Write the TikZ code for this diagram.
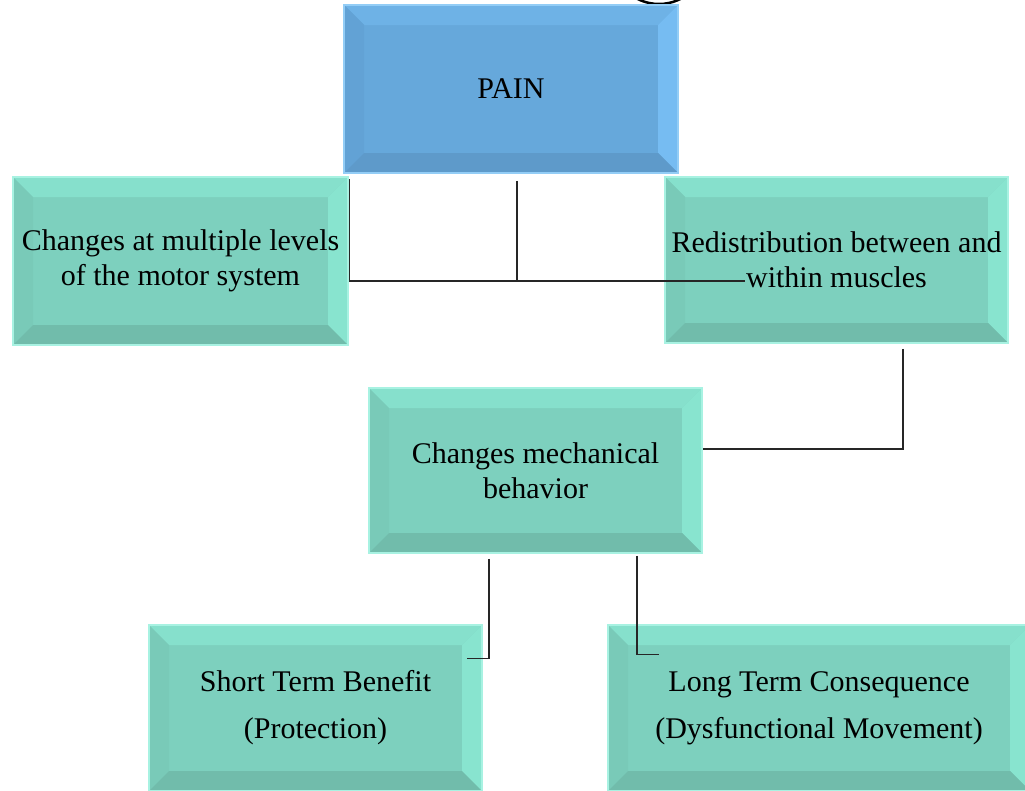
\documentclass[tikz,border=0pt]{standalone}
\usepackage{fontspec}
\setmainfont{Liberation Serif}
\usetikzlibrary{calc}
\definecolor{tealfill}{HTML}{7DD0BE}
\definecolor{tealtop}{HTML}{86E0CC}
\definecolor{tealright}{HTML}{88E4CF}
\definecolor{tealleft}{HTML}{79CAB8}
\definecolor{tealbot}{HTML}{71BCAB}
\definecolor{tealrim}{HTML}{A8F2E2}
\definecolor{bluefill}{HTML}{66A8DB}
\definecolor{bluetop}{HTML}{6EB2E6}
\definecolor{blueright}{HTML}{76BCF2}
\definecolor{blueleft}{HTML}{62A2D5}
\definecolor{bluebot}{HTML}{5E9ACA}
\definecolor{bluerim}{HTML}{93CDF6}
\tikzset{
  bevel/.style n args={5}{
    path picture={
      \fill[#1] (path picture bounding box.south west) rectangle (path picture bounding box.north east);
      \fill[#2] (path picture bounding box.north west) -- (path picture bounding box.north east)
        -- ([xshift=-20pt,yshift=-20pt]path picture bounding box.north east)
        -- ([xshift=20pt,yshift=-20pt]path picture bounding box.north west) -- cycle;
      \fill[#3] (path picture bounding box.north east) -- (path picture bounding box.south east)
        -- ([xshift=-20pt,yshift=20pt]path picture bounding box.south east)
        -- ([xshift=-20pt,yshift=-20pt]path picture bounding box.north east) -- cycle;
      \fill[#4] (path picture bounding box.north west) -- (path picture bounding box.south west)
        -- ([xshift=20pt,yshift=20pt]path picture bounding box.south west)
        -- ([xshift=20pt,yshift=-20pt]path picture bounding box.north west) -- cycle;
      \fill[#5] (path picture bounding box.south west) -- (path picture bounding box.south east)
        -- ([xshift=-20pt,yshift=20pt]path picture bounding box.south east)
        -- ([xshift=20pt,yshift=20pt]path picture bounding box.south west) -- cycle;
    }},
  tealbox/.style={rectangle, draw=tealrim, line width=1.5pt, inner sep=0pt,
    bevel={tealfill}{tealtop}{tealright}{tealleft}{tealbot},
    align=center, font=\fontsize{30}{35}\selectfont, text=black},
  bluebox/.style={rectangle, draw=bluerim, line width=1.5pt, inner sep=0pt,
    bevel={bluefill}{bluetop}{blueright}{blueleft}{bluebot},
    align=center, font=\fontsize{30}{35}\selectfont, text=black},
  lowbox/.style={tealbox, font=\fontsize{30}{47}\selectfont},
  conn/.style={draw=black!85, line width=1.3pt}
}
\begin{document}
\begin{tikzpicture}[x=1pt,y=-1pt]
\useasboundingbox (0,0) rectangle (1025,790);
\fill[white] (0,0) rectangle (1025,790);
% partial circle at top edge
\draw[line width=2.5pt] (659,-44) circle (48);
% boxes
\node[bluebox, minimum width=334pt, minimum height=168pt] (pain) at (511,89) {PAIN};
\node[tealbox, minimum width=335pt, minimum height=168pt] (lft) at (180.5,261)
  {Changes at multiple levels\\of the motor system};
\node[tealbox, minimum width=343pt, minimum height=166pt] (rgt) at (836.5,260)
  {Redistribution between and\\within muscles};
\node[tealbox, minimum width=333pt, minimum height=165pt] (mid) at (535.5,470.5)
  {Changes mechanical\\behavior};
\node[lowbox, minimum width=333pt, minimum height=166pt] (bl) at (315.5,708)
  {Short Term Benefit\\(Protection)};
\node[lowbox, minimum width=422pt, minimum height=166pt] (br) at (819,708)
  {Long Term Consequence\\(Dysfunctional Movement)};
% connectors
\coordinate (jr) at (745,281);
\draw[conn] ($(pain.south)+(6,7)$) -- ($(pain.south)+(6,108)$);
\draw[conn] ($(lft.north east)+(1,3)$) |- (jr);
\draw[conn] ($(rgt.south)+(66.5,5)$) |- ($(mid.east)+(0,-21.5)$);
\draw[conn] ($(mid.south)+(-46.5,5)$) |- ($(bl.north east)+(-16,34)$);
\draw[conn] ($(mid.south)+(101.5,2)$) |- ($(br.north west)+(52,30)$);
\end{tikzpicture}
\end{document}
